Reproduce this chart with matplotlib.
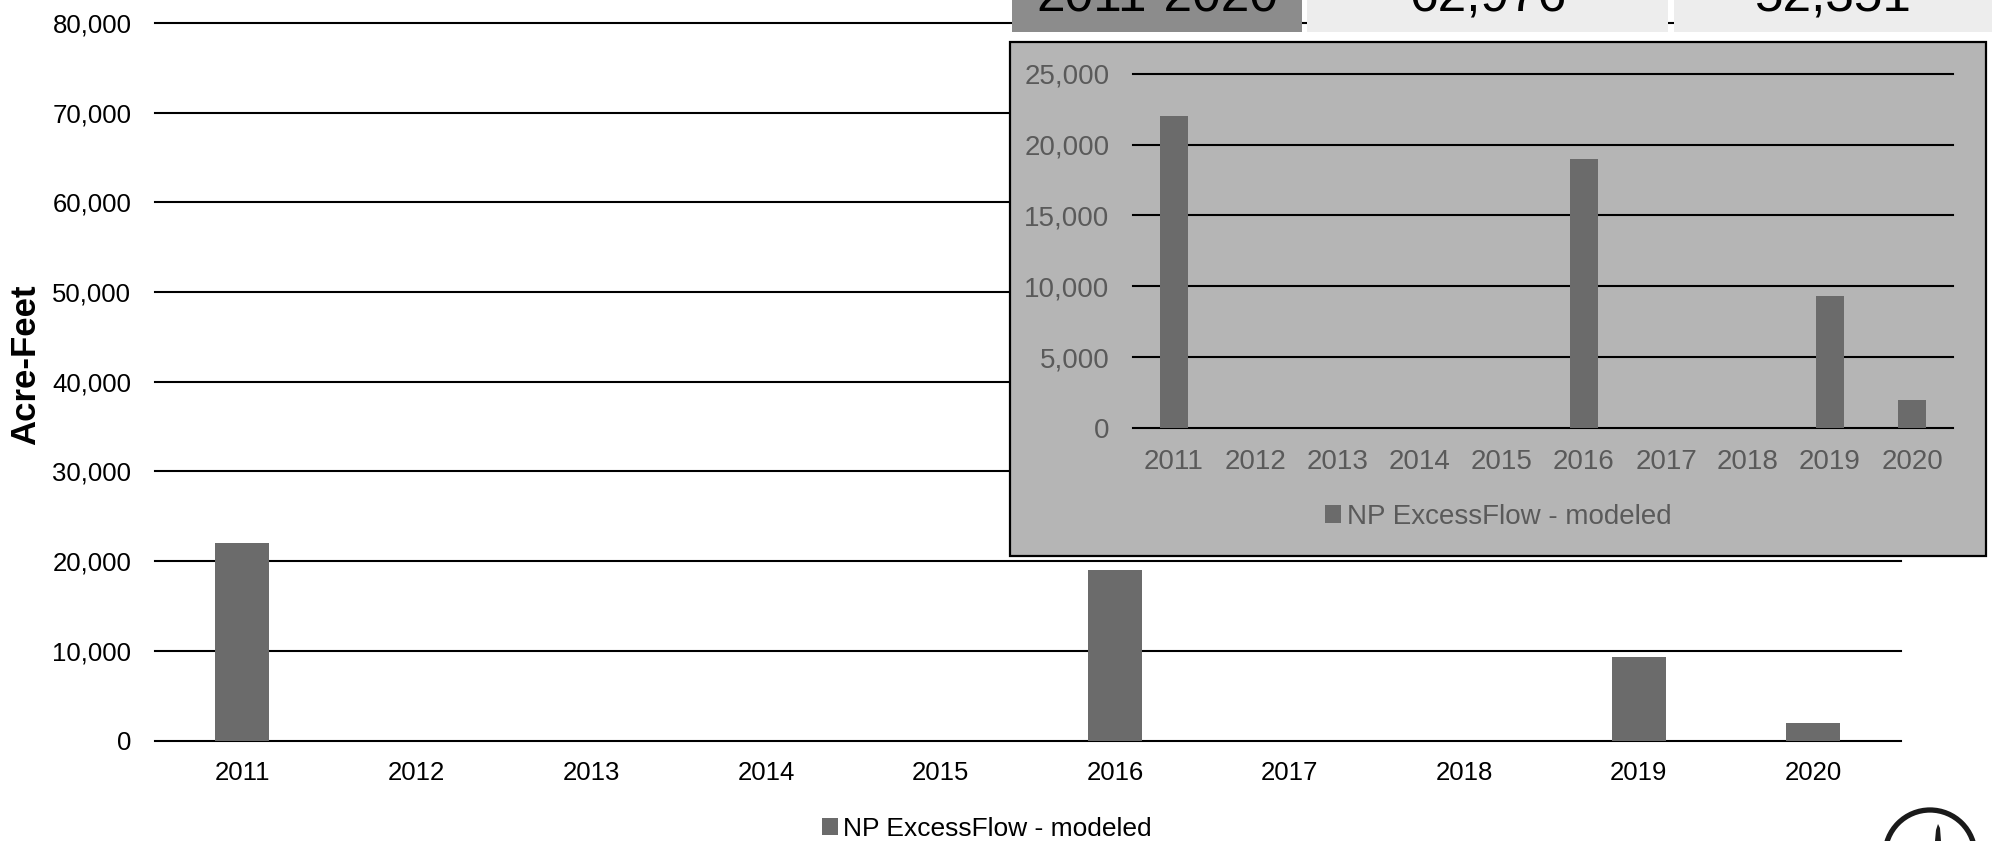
import matplotlib.pyplot as plt
from matplotlib.patches import Rectangle, Circle, Polygon

# data
years = ['2011', '2012', '2013', '2014', '2015', '2016', '2017', '2018', '2019', '2020']
excess_flow = [22000, 0, 0, 0, 0, 19000, 0, 0, 9300, 2000]
series_name = 'NP ExcessFlow - modeled'
main_yticks = [0, 10000, 20000, 30000, 40000, 50000, 60000, 70000, 80000]
inset_yticks = [0, 5000, 10000, 15000, 20000, 25000]
table_period = '2011-2020'
table_values = ['62,976', '52,351']

W, H = 1992, 841
bar_color = '#6b6b6b'
plt.rcParams['font.family'] = ['Liberation Sans', 'DejaVu Sans']

fig = plt.figure(figsize=(W / 100, H / 100), dpi=100)


def fx(px):
    return px / W


def fy(py):
    return 1 - py / H


def fmt(v):
    return f'{v:,.0f}'


# main chart
ax = fig.add_axes([fx(155), fy(740.6), fx(1900.6 - 155), (740.6 - 22.9) / H])
x = range(len(years))
ax.bar(x, excess_flow, width=0.31, color=bar_color, label=series_name, zorder=3)
ax.set_xlim(-0.5, len(years) - 0.5)
ax.set_ylim(0, 80000)
ax.set_yticks(main_yticks)
ax.set_yticklabels([fmt(v) for v in main_yticks])
ax.set_xticks(list(x))
ax.set_xticklabels(years)
ax.yaxis.grid(True, color='black', lw=1.5)
ax.set_axisbelow(True)
for g in ax.get_ygridlines():
    g.set_clip_on(False)
for s in ax.spines.values():
    s.set_visible(False)
ax.tick_params(axis='y', length=0, pad=17, labelsize=18.5, labelcolor='black')
ax.tick_params(axis='x', length=0, pad=15, labelsize=18.5, labelcolor='black')
fig.text(fx(26), fy(365), 'Acre-Feet', rotation=90, ha='center', va='center',
         fontsize=25, fontweight='bold')

fig.legend(handles=ax.get_legend_handles_labels()[0], labels=[series_name],
           loc='center', bbox_to_anchor=(fx(987), fy(829)), frameon=False,
           fontsize=19, handlelength=0.6, handleheight=0.6, handletextpad=0.2)

# summary table strip at the top
cells = [(1012, 1302, '#8c8c8c', table_period),
         (1307, 1668, '#ededed', table_values[0]),
         (1674, 1992, '#ededed', table_values[1])]
for x0, x1, col, txt in cells:
    fig.patches.append(Rectangle((fx(x0), fy(32)), fx(x1 - x0), 32 / H + 0.05,
                                 transform=fig.transFigure, facecolor=col,
                                 edgecolor='none', zorder=5))
    fig.text(fx((x0 + x1) / 2), fy(11), txt, ha='center', va='baseline',
             fontsize=37, color='black', zorder=6)

# inset copy of the chart
fig.patches.append(Rectangle((fx(1010), fy(556)), fx(1986 - 1010), (556 - 42) / H,
                             transform=fig.transFigure, facecolor='#b5b5b5',
                             edgecolor='black', lw=1.6, zorder=5))
ins = fig.add_axes([fx(1133), fy(428), fx(1953 - 1133), (428 - 73.7) / H], zorder=6)
ins.patch.set_alpha(0)
ins.bar(x, excess_flow, width=0.33, color=bar_color, zorder=3)
ins.set_xlim(-0.5, len(years) - 0.5)
ins.set_ylim(0, 25000)
ins.set_yticks(inset_yticks)
ins.set_yticklabels([fmt(v) for v in inset_yticks])
ins.set_xticks(list(x))
ins.set_xticklabels(years)
ins.yaxis.grid(True, color='black', lw=1.5)
ins.set_axisbelow(True)
for g in ins.get_ygridlines():
    g.set_clip_on(False)
for s in ins.spines.values():
    s.set_visible(False)
ins.tick_params(axis='y', length=0, pad=17, labelsize=20, labelcolor='#5a5a5a')
ins.tick_params(axis='x', length=0, pad=15, labelsize=20, labelcolor='#5a5a5a')
ins_leg = fig.legend(handles=ins.containers[0].patches[:1], labels=[series_name],
                     loc='center', bbox_to_anchor=(fx(1498), fy(517)), frameon=False,
                     fontsize=20, handlelength=0.6, handleheight=0.6, handletextpad=0.2)
for t in ins_leg.get_texts():
    t.set_color('#5a5a5a')
ins_leg.set_zorder(7)

# logo peeking in at the bottom right
logo = fig.add_axes([fx(1860), fy(841), fx(132), 71 / H], zorder=8)
logo.set_xlim(1860, 1992)
logo.set_ylim(841, 770)
logo.axis('off')
logo.add_patch(Circle((1930, 855), 45, fill=False, lw=3.8, edgecolor='#1a1a1a', clip_on=False))
logo.add_patch(Polygon([(1935, 841), (1936, 830), (1938, 824), (1940, 828), (1941, 841)],
                       closed=True, facecolor='#1a1a1a', edgecolor='none'))

fig.savefig('out.png', dpi=100)
